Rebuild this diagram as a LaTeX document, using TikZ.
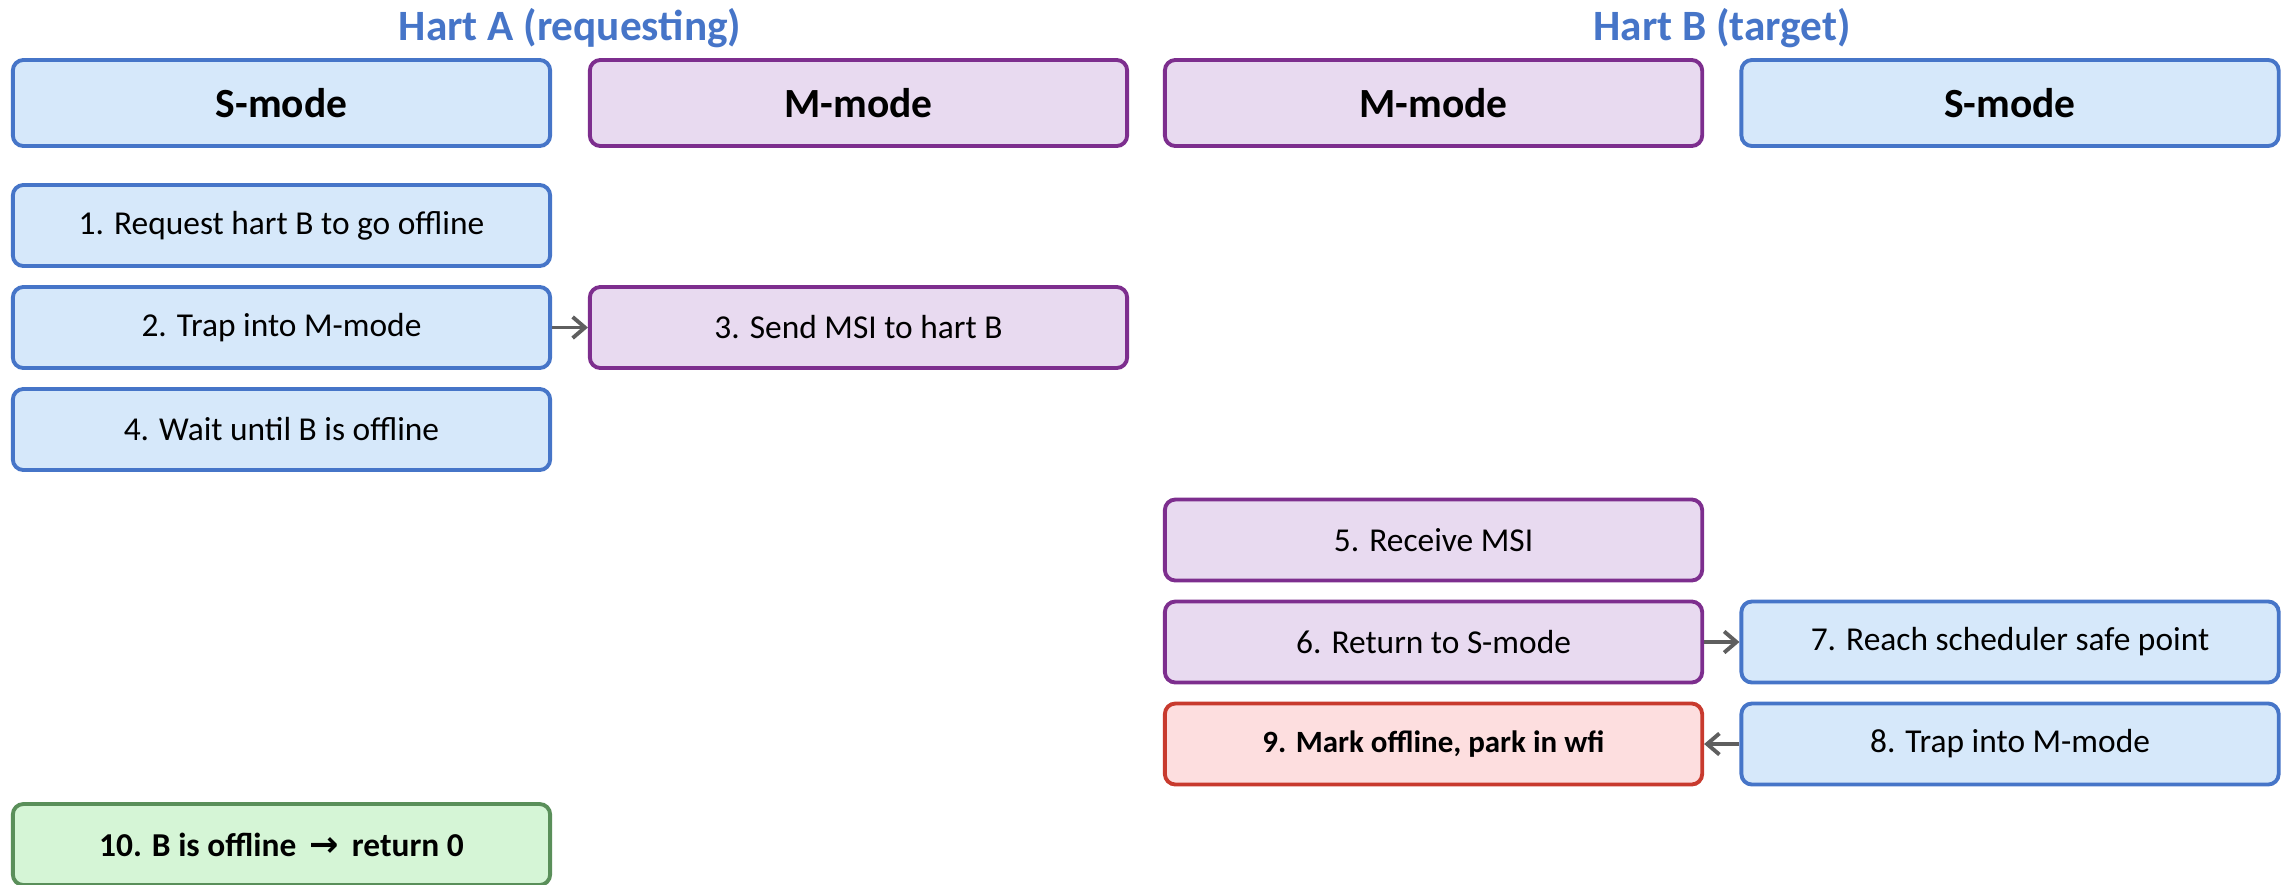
\documentclass[tikz,border=0pt]{standalone}
\usepackage{fontspec}
\setmainfont{Carlito}
\newfontfamily\arrowfont{DejaVu Sans}
\usetikzlibrary{arrows.meta}
\definecolor{bfill}{HTML}{D6E8FA}
\definecolor{bdraw}{HTML}{4675C8}
\definecolor{pfill}{HTML}{E8DAF0}
\definecolor{pdraw}{HTML}{7D2E8E}
\definecolor{rfill}{HTML}{FDDEDF}
\definecolor{rdraw}{HTML}{C83A2E}
\definecolor{gfill}{HTML}{D5F5D6}
\definecolor{gdraw}{HTML}{5A8F5A}
\definecolor{titlec}{HTML}{4675C8}
\definecolor{arrc}{HTML}{5F5F5F}
\tikzset{
  box/.style={rounded corners=3pt, line width=1.1pt, minimum width=5.37cm, minimum height=0.81cm, inner sep=0pt, align=center, font=\fontsize{9.5}{11}\selectfont},
  sbox/.style={box, fill=bfill, draw=bdraw},
  mbox/.style={box, fill=pfill, draw=pdraw},
  hdr/.style={minimum height=0.86cm, font=\fontsize{11.8}{14}\selectfont\bfseries},
  ttl/.style={text=titlec, font=\fontsize{12.3}{15}\selectfont\bfseries},
  flow/.style={draw=arrc, line width=1.1pt, -{Straight Barb[length=3.5pt,width=6pt]}},
}
\begin{document}
\begin{tikzpicture}[x=0.01cm,y=-0.01cm]
\useasboundingbox (0,0) rectangle (2283,884);
\node[ttl] (ta) at (570,28) {Hart A (requesting)};
\node[ttl] (tb) at (1722,28) {Hart B (target)};
\node[sbox,hdr] (h1) at (281.5,103) {S-mode};
\node[mbox,hdr] (h2) at (858.5,103) {M-mode};
\node[mbox,hdr] (h3) at (1433.5,103) {M-mode};
\node[sbox,hdr] (h4) at (2010,103) {S-mode};
\node[sbox] (s1) at (281.5,225.5) {1. Request hart B to go offline};
\node[sbox] (s2) at (281.5,327.5) {2. Trap into M-mode};
\node[mbox] (s3) at (858.5,327.5) {3. Send MSI to hart B};
\node[sbox] (s4) at (281.5,429.5) {4. Wait until B is offline};
\node[mbox] (s5) at (1433.5,540) {5. Receive MSI};
\node[mbox] (s6) at (1433.5,642) {6. Return to S-mode};
\node[sbox] (s7) at (2010,642) {7. Reach scheduler safe point};
\node[box, fill=rfill, draw=rdraw, font=\fontsize{8.8}{11}\selectfont\bfseries] (s9) at (1433.5,744) {9. Mark offline, park in wfi};
\node[sbox] (s8) at (2010,744) {8. Trap into M-mode};
\node[box, fill=gfill, draw=gdraw, font=\fontsize{9.5}{11}\selectfont\bfseries] (s10) at (281.5,844.5) {10. B is offline\, {\arrowfont\bfseries\fontsize{10}{11}\selectfont →}\, return 0};
\draw[flow] (s2) -- (s3);
\draw[flow] (s6) -- (s7);
\draw[flow] (s8) -- (s9);
\end{tikzpicture}
\end{document}
